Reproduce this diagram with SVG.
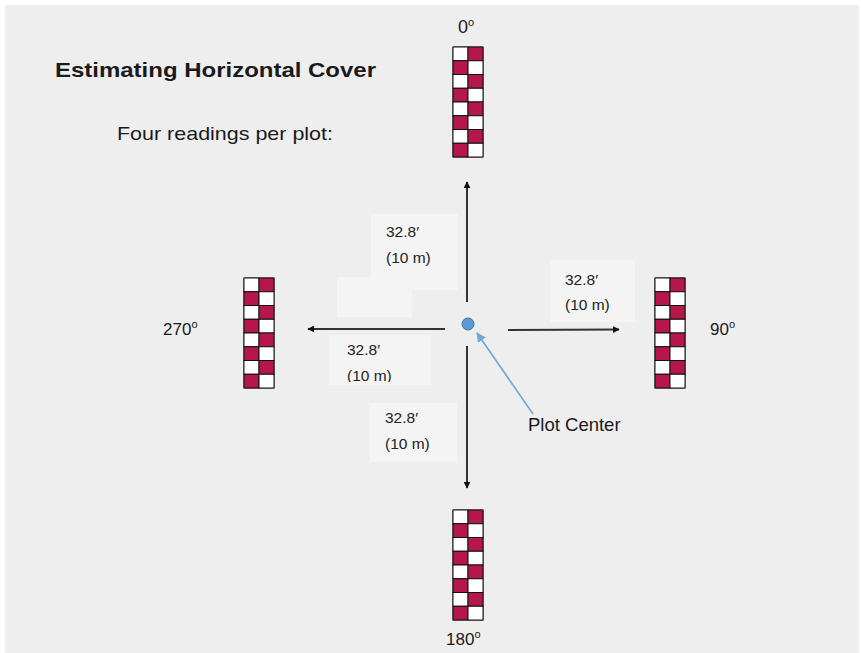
<svg xmlns="http://www.w3.org/2000/svg" width="861" height="653" viewBox="0 0 861 653">
<style>
  .t { font-family: "Liberation Sans", Arial, sans-serif; fill: #1a1a1a; }
  .lbl { font-family: "Liberation Sans", Arial, sans-serif; font-size: 15.5px; fill: #222; }
  .box { fill: #f4f4f4; }
  .ax { stroke: #333; stroke-width: 2; fill: none; }
  .w { fill: #ffffff; stroke: #111; stroke-width: 1; }
  .r { fill: #b5174b; stroke: #111; stroke-width: 1; }
</style>
<defs>
  <marker id="ah" viewBox="0 0 10 10" refX="9" refY="5" markerWidth="3.5" markerHeight="3.5" orient="auto" markerUnits="strokeWidth">
    <path d="M0,0 L10,5 L0,10 Z" fill="#111"/>
  </marker>
  <marker id="bh" viewBox="0 0 10 10" refX="9" refY="5" markerWidth="6" markerHeight="6" orient="auto" markerUnits="strokeWidth">
    <path d="M0,0 L10,5 L0,10 Z" fill="#6fa8dc"/>
  </marker>
  <g id="board">
    <rect x="-1" y="-1" width="32" height="112" rx="2.5" fill="#888"/>
    <rect class="w" x="0" y="0" width="15" height="13.75"/><rect class="r" x="15" y="0" width="15" height="13.75"/>
    <rect class="r" x="0" y="13.75" width="15" height="13.75"/><rect class="w" x="15" y="13.75" width="15" height="13.75"/>
    <rect class="w" x="0" y="27.5" width="15" height="13.75"/><rect class="r" x="15" y="27.5" width="15" height="13.75"/>
    <rect class="r" x="0" y="41.25" width="15" height="13.75"/><rect class="w" x="15" y="41.25" width="15" height="13.75"/>
    <rect class="w" x="0" y="55" width="15" height="13.75"/><rect class="r" x="15" y="55" width="15" height="13.75"/>
    <rect class="r" x="0" y="68.75" width="15" height="13.75"/><rect class="w" x="15" y="68.75" width="15" height="13.75"/>
    <rect class="w" x="0" y="82.5" width="15" height="13.75"/><rect class="r" x="15" y="82.5" width="15" height="13.75"/>
    <rect class="r" x="0" y="96.25" width="15" height="13.75"/><rect class="w" x="15" y="96.25" width="15" height="13.75"/>
  </g>
  <clipPath id="clipL"><rect x="330" y="334" width="100" height="48"/></clipPath>
</defs>

<rect x="0" y="0" width="861" height="653" fill="#ffffff"/>
<rect x="5" y="5" width="854" height="648" fill="#eeeeee"/>

<g id="title">
  <text class="t" x="55" y="77" font-size="21" font-weight="bold" textLength="321" lengthAdjust="spacingAndGlyphs">Estimating Horizontal Cover</text>
  <text class="t" x="117" y="140" font-size="19" fill="#333" textLength="216" lengthAdjust="spacingAndGlyphs">Four readings per plot:</text>
</g>

<g id="label-boxes">
  <rect class="box" x="371" y="214" width="87" height="76"/>
  <rect class="box" x="550" y="260" width="85" height="62"/>
  <rect class="box" x="337" y="277" width="75" height="40"/>
  <rect class="box" x="330" y="335" width="100" height="50"/>
  <rect class="box" x="370" y="403" width="87" height="59"/>
</g>

<g id="connectors">
  <line class="ax" x1="467" y1="302" x2="467" y2="182" marker-end="url(#ah)"/>
  <line class="ax" x1="467" y1="346" x2="467" y2="488" marker-end="url(#ah)"/>
  <line class="ax" x1="445" y1="329" x2="308" y2="329" marker-end="url(#ah)"/>
  <line class="ax" x1="508" y1="330" x2="619" y2="329.5" marker-end="url(#ah)"/>
  <line x1="533" y1="414" x2="477" y2="333" stroke="#6fa8dc" stroke-width="1.6" marker-end="url(#bh)"/>
</g>

<g id="board-0"><use href="#board" x="453" y="47"/>
  <text class="t" x="458" y="33" font-size="18">0<tspan font-size="11" dy="-7">o</tspan></text></g>
<g id="board-90"><use href="#board" x="655" y="278"/>
  <text class="t" x="710" y="335" font-size="17">90<tspan font-size="11" dy="-7">o</tspan></text></g>
<g id="board-180"><use href="#board" x="453" y="510"/>
  <text class="t" x="446" y="645" font-size="17">180<tspan font-size="11" dy="-7">o</tspan></text></g>
<g id="board-270"><use href="#board" x="244" y="278"/>
  <text class="t" x="163" y="335" font-size="17">270<tspan font-size="11" dy="-7">o</tspan></text></g>

<g id="plot-center">
  <circle cx="468" cy="324" r="6" fill="#5b9bd5" stroke="#41719c" stroke-width="1"/>
  <text class="t" x="528" y="431" font-size="18.5" fill="#222">Plot Center</text>
</g>

<g id="distance-labels">
  <text class="lbl" x="386" y="237">32.8′</text>
  <text class="lbl" x="386" y="263">(10 m)</text>
  <text class="lbl" x="565" y="285">32.8′</text>
  <text class="lbl" x="565" y="310">(10 m)</text>
  <g clip-path="url(#clipL)">
    <text class="lbl" x="347" y="355">32.8′</text>
    <text class="lbl" x="347" y="381">(10 m)</text>
  </g>
  <text class="lbl" x="385" y="423">32.8′</text>
  <text class="lbl" x="385" y="449">(10 m)</text>
</g>
</svg>
